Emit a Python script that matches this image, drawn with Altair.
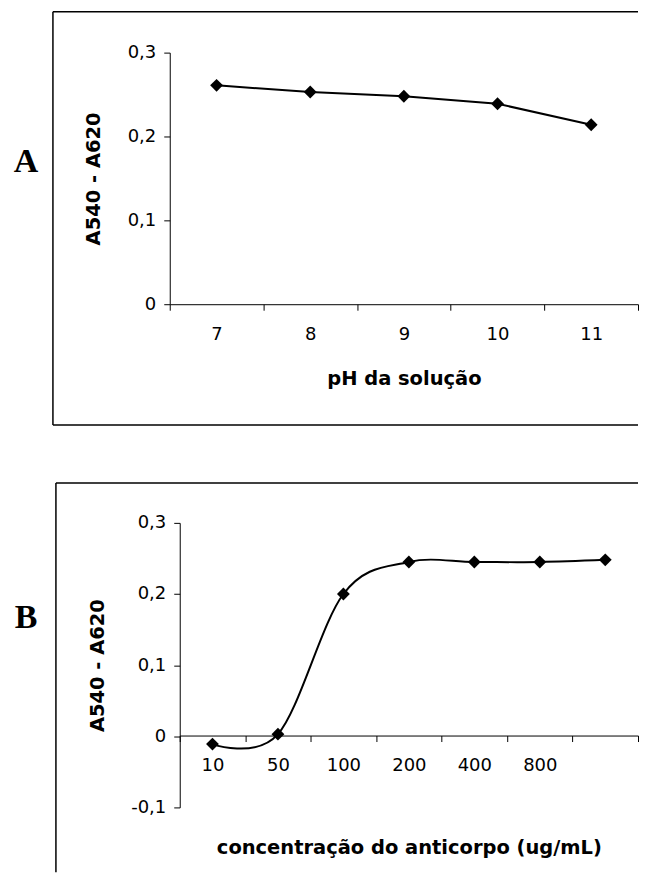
import altair as alt
import pandas as pd

# ---------------- data ----------------
ph = [7, 8, 9, 10, 11]
abs_ph = [0.261, 0.253, 0.248, 0.239, 0.214]

conc_labels = ["10", "50", "100", "200", "400", "800", ""]
abs_conc = [-0.011, 0.003, 0.200, 0.245, 0.245, 0.245, 0.248]

y_ticks_a = [0, 0.1, 0.2, 0.3]
y_ticks_b = [-0.1, 0, 0.1, 0.2, 0.3]

dfa = pd.DataFrame({"ph": ph, "v": abs_ph})
dfb = pd.DataFrame({"i": list(range(len(conc_labels))), "v": abs_conc})
one = pd.DataFrame({"k": [0]})

FONT = "DejaVu Sans"
comma_expr = "replace(toString(datum.value), '.', ',')"
conc_expr = "[" + ",".join("'%s'" % s for s in conc_labels) + "][datum.value]"

axis_common = dict(
    labelFont=FONT, labelFontSize=18, labelColor="black",
    titleFont=FONT, titleFontSize=19.5, titleFontWeight="bold", titleColor="black",
    domainColor="black", tickColor="black", domainWidth=1, tickWidth=1,
    tickSize=6, grid=False,
)

# Both plot areas start at page x = 169; panel B's scale range is shifted right.
W = 469


def seg(x1, x2, y1, y2, color="black", w=1.5):
    return alt.Chart(one).mark_rule(color=color, strokeWidth=w).encode(
        x=alt.value(x1), x2=alt.value(x2), y=alt.value(y1), y2=alt.value(y2))


def panel(df, xfield, xaxis, xrange, yvals, ydomain, height, interp,
          letter, frame, letter_pos, marker, ytitle_x, yoffset):
    base = alt.Chart(df)
    x = alt.X(xfield, scale=alt.Scale(type="band", paddingInner=0, paddingOuter=0,
                                      range=xrange),
              bandPosition=0.5, axis=xaxis)
    y = alt.Y("v:Q", scale=alt.Scale(domain=ydomain, nice=False, zero=False),
              axis=alt.Axis(values=yvals, title="A540 - A620", labelExpr=comma_expr,
                            labelPadding=8, titleX=ytitle_x, titleBaseline="middle",
                            offset=yoffset, **axis_common))
    line = base.mark_line(color="black", strokeWidth=2, interpolate=interp).encode(x=x, y=y)
    pts = base.mark_point(shape="diamond", filled=True, size=165, color="black",
                          opacity=1).encode(x=x, y=y)
    lt = alt.Chart(one).mark_text(text=letter, font="Liberation Serif", fontSize=34,
                                  fontWeight="bold", align="center", baseline="middle",
                                  color="black").encode(
        x=alt.value(letter_pos[0]), y=alt.value(letter_pos[1]))
    mk = seg(marker[0], marker[0], marker[1], marker[2], color="white", w=1)
    return alt.layer(mk, *frame, lt, line, pts).properties(width=W, height=height)


# Panel A: plot area at page x 169..638, y 53..305
xa_axis = alt.Axis(title="pH da solução", tickBand="extent", labelAngle=0,
                   labelPadding=15, titleY=80, titleBaseline="alphabetic", **axis_common)
frame_a = [seg(-117, -117, -41, 373), seg(-117, W, -41, -41), seg(-117, W, 373, 373)]
chart_a = panel(dfa, "ph:O", xa_axis, [0, W], y_ticks_a, [0, 0.3], 252, "linear",
                "A", frame_a, (-144, 110), (-161, -43, 387), -76, 0)

# Panel B: axis at page x 179..638, y 522..807
xb_axis = alt.Axis(title="concentração do anticorpo (ug/mL)", tickBand="extent",
                   labelAngle=0, labelExpr=conc_expr, labelPadding=15, offset=-72,
                   titleY=118, titleBaseline="alphabetic", **axis_common)
frame_b = [seg(-114, -114, -40, 350), seg(-114, W, -40, -40)]
chart_b = panel(dfb, "i:O", xb_axis, [10, W], y_ticks_b, [-0.1, 0.3], 285, "cardinal",
                "B", frame_b, (-144, 95), (-161, -82, 350), -82, -10)

chart = alt.vconcat(chart_a, chart_b, spacing=0, padding=0).configure(
    background="white").configure_view(stroke="transparent", strokeWidth=0)

chart.save("out.html", embed_options={"renderer": "svg", "actions": False})
